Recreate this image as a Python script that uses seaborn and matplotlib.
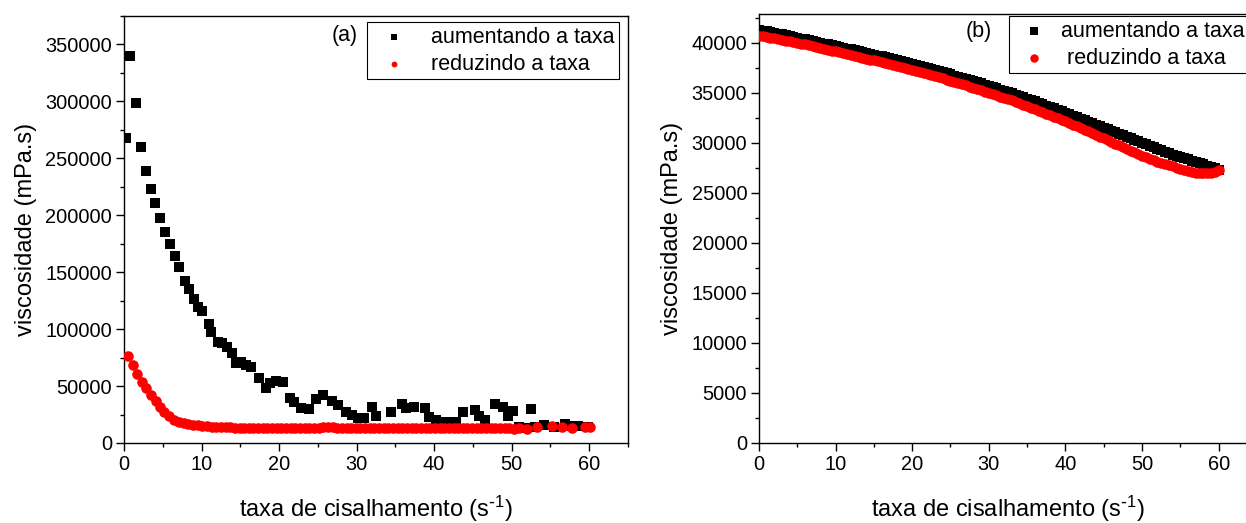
import matplotlib
matplotlib.use("Agg")
import matplotlib.pyplot as plt
from matplotlib.ticker import MultipleLocator
import pandas as pd
import seaborn as sns

# ---- (a) shear-rate sweep: viscosity vs shear rate ----
a_up_rate = [0.26, 0.77, 1.50, 2.19, 2.79, 3.43, 4.02, 4.63, 5.27, 5.91,
             6.56, 7.11, 7.84, 8.35, 9.00, 9.55, 10.06, 10.93, 11.27, 12.12,
             12.60, 13.30, 13.97, 14.40, 15.13, 15.77, 16.32, 17.39, 18.34, 18.77,
             19.67, 20.57, 21.43, 21.98, 22.84, 23.91, 24.77, 25.62, 26.83, 27.54,
             28.62, 29.40, 30.12, 30.98, 32.04, 32.48, 34.41, 35.82, 36.34, 37.40,
             38.82, 39.33, 40.19, 41.48, 42.10, 42.76, 43.70, 45.24, 45.76, 46.62,
             47.90, 48.88, 49.52, 50.13, 50.90, 51.76, 52.44, 53.05, 54.11, 55.40,
             56.90, 57.75, 58.61, 59.90]
a_up_visc = [267500, 339700, 298200, 259700, 238600, 222800, 210500, 198000, 185400, 174600,
             164300, 154700, 142400, 134800, 126100, 119600, 115800, 104100, 97600, 88900,
             87500, 84500, 79200, 70400, 71300, 68400, 66900, 57300, 48000, 52600,
             54400, 53800, 39200, 36200, 31100, 29800, 38600, 42100, 36800, 33300,
             27500, 24500, 21700, 21900, 32000, 24100, 27600, 34200, 31100, 31300,
             30300, 22400, 20200, 18700, 18700, 18700, 26800, 28900, 24100, 20200,
             34200, 31800, 23700, 28100, 14300, 12900, 29600, 14300, 15800, 14300,
             16700, 14900, 14900, 14000]

a_down_rate = [0.55, 1.1, 1.7, 2.3, 2.9, 3.5, 4.1, 4.6, 5.2, 5.8,
               6.5, 7.1, 7.7, 8.3, 8.9, 9.5, 10.1, 10.7, 11.3, 11.9,
               12.5, 13.1, 13.7, 14.3, 14.9, 15.5, 16.1, 16.7, 17.3, 17.9,
               18.5, 19.1, 19.7, 20.3, 20.9, 21.5, 22.1, 22.7, 23.3, 23.9,
               24.5, 25.1, 25.7, 26.3, 26.9, 27.5, 28.1, 28.7, 29.3, 29.9,
               30.5, 31.1, 31.7, 32.3, 32.9, 33.5, 34.1, 34.7, 35.3, 35.9,
               36.5, 37.1, 37.7, 38.3, 38.9, 39.5, 40.1, 40.7, 41.3, 41.9,
               42.5, 43.1, 43.7, 44.3, 44.9, 45.5, 46.1, 46.7, 47.3, 47.9,
               48.5, 49.1, 49.7, 50.3, 50.9, 52.0, 53.3, 55.2, 56.5, 57.8,
               59.4, 60.1]
a_down_visc = [76600, 68400, 60500, 53800, 48000, 42100, 36800, 31800, 26900, 23700,
               20200, 18300, 17200, 16400, 15900, 15500, 15100, 14700, 14400, 14100,
               13900, 13800, 13600, 13500, 13400, 13300, 13300, 13200, 13300, 13200,
               13100, 13100, 13000, 13000, 12900, 13100, 13200, 13000, 13200, 13300,
               13100, 13400, 14000, 14300, 13600, 13200, 13400, 13100, 13000, 13200,
               13000, 12900, 13100, 13000, 13200, 12800, 13100, 13000, 12800, 12900,
               13100, 12800, 13000, 12900, 13100, 12900, 13000, 12800, 13200, 12900,
               13100, 13000, 12800, 13100, 12900, 13000, 13200, 12900, 13100, 13000,
               12800, 13100, 13300, 12700, 12900, 12000, 14300, 14900, 13800, 12900,
               13800, 13800]

# ---- (b) second sample ----
b_rate = [0, 0.5, 1, 1.5, 2, 2.5, 3, 3.5, 4, 4.5, 5, 5.5, 6, 6.5, 7, 7.5, 8, 8.5, 9, 9.5,
          10, 10.5, 11, 11.5, 12, 12.5, 13, 13.5, 14, 14.5, 15, 15.5, 16, 16.5, 17, 17.5,
          18, 18.5, 19, 19.5, 20, 20.5, 21, 21.5, 22, 22.5, 23, 23.5, 24, 24.5, 25, 25.5,
          26, 26.5, 27, 27.5, 28, 28.5, 29, 29.5, 30, 30.5, 31, 31.5, 32, 32.5, 33, 33.5,
          34, 34.5, 35, 35.5, 36, 36.5, 37, 37.5, 38, 38.5, 39, 39.5, 40, 40.5, 41, 41.5,
          42, 42.5, 43, 43.5, 44, 44.5, 45, 45.5, 46, 46.5, 47, 47.5, 48, 48.5, 49, 49.5,
          50, 50.5, 51, 51.5, 52, 52.5, 53, 53.5, 54, 54.5, 55, 55.5, 56, 56.5, 57, 57.5,
          58, 58.5, 59, 59.5, 60]
b_up_visc = [41300, 41220, 41150, 41080, 41000, 40920, 40850, 40750, 40650, 40580,
             40500, 40420, 40350, 40250, 40150, 40080, 40000, 39920, 39850, 39780,
             39700, 39600, 39500, 39420, 39350, 39250, 39150, 39080, 39000, 38900,
             38800, 38720, 38650, 38550, 38450, 38350, 38250, 38150, 38050, 37950,
             37850, 37750, 37650, 37550, 37450, 37350, 37250, 37150, 37050, 36950,
             36850, 36720, 36600, 36500, 36400, 36270, 36150, 36050, 35950, 35820,
             35700, 35580, 35450, 35320, 35200, 35080, 34950, 34820, 34700, 34550,
             34400, 34280, 34150, 34000, 33850, 33720, 33600, 33450, 33300, 33150,
             33000, 32850, 32700, 32550, 32400, 32250, 32100, 31950, 31800, 31650,
             31500, 31350, 31200, 31050, 30900, 30750, 30600, 30450, 30300, 30150,
             30000, 29850, 29700, 29550, 29400, 29250, 29100, 28950, 28800, 28700,
             28600, 28480, 28350, 28220, 28100, 27980, 27850, 27720, 27600, 27450,
             27300]
b_down_visc = [40700, 40650, 40600, 40520, 40450, 40380, 40300, 40220, 40150, 40080,
               40000, 39920, 39850, 39750, 39650, 39580, 39500, 39400, 39300, 39220,
               39150, 39050, 38950, 38880, 38800, 38700, 38600, 38500, 38400, 38320,
               38250, 38150, 38050, 37950, 37850, 37750, 37650, 37550, 37450, 37350,
               37250, 37150, 37050, 36950, 36850, 36750, 36650, 36550, 36450, 36320,
               36200, 36100, 36000, 35870, 35750, 35620, 35500, 35370, 35250, 35120,
               35000, 34870, 34750, 34620, 34500, 34370, 34250, 34100, 33950, 33800,
               33650, 33500, 33350, 33200, 33050, 32900, 32750, 32600, 32450, 32300,
               32150, 31970, 31800, 31650, 31500, 31320, 31150, 30970, 30800, 30620,
               30450, 30270, 30100, 29920, 29750, 29570, 29400, 29220, 29050, 28870,
               28700, 28550, 28400, 28250, 28100, 27970, 27850, 27750, 27650, 27520,
               27400, 27300, 27200, 27100, 27000, 26970, 26950, 26970, 27000, 27100,
               27250]

label_up = "aumentando a taxa"
label_down = "reduzindo a taxa"

sns.set_theme(style="ticks")
plt.rcParams["font.family"] = ["Liberation Sans", "DejaVu Sans"]
plt.rcParams["mathtext.default"] = "regular"
plt.rcParams["text.color"] = "black"
plt.rcParams["axes.labelcolor"] = "black"
plt.rcParams["axes.linewidth"] = 1.0
for k in ("xtick.major.width", "ytick.major.width", "xtick.minor.width", "ytick.minor.width"):
    plt.rcParams[k] = 1.0

fig = plt.figure(figsize=(12.46, 5.23), dpi=100)
ax_a = fig.add_axes([0.0995, 0.153, 0.4045, 0.8164])
ax_b = fig.add_axes([0.6091, 0.153, 0.3997, 0.8203])

df_a_up = pd.DataFrame({"taxa": a_up_rate, "visc": a_up_visc})
df_a_down = pd.DataFrame({"taxa": a_down_rate, "visc": a_down_visc})
df_b_up = pd.DataFrame({"taxa": b_rate, "visc": b_up_visc})
df_b_down = pd.DataFrame({"taxa": b_rate, "visc": b_down_visc})

sns.scatterplot(data=df_a_up, x="taxa", y="visc", ax=ax_a, marker="s", s=52,
                color="black", linewidth=0, label=label_up, zorder=3)
sns.scatterplot(data=df_a_down, x="taxa", y="visc", ax=ax_a, marker="o", s=58,
                color="#ff0000", linewidth=0, label=label_down, zorder=4)

sns.scatterplot(data=df_b_up, x="taxa", y="visc", ax=ax_b, marker="s", s=52,
                color="black", linewidth=0, label=label_up, zorder=3)
sns.scatterplot(data=df_b_down, x="taxa", y="visc", ax=ax_b, marker="o", s=58,
                color="#ff0000", linewidth=0, label=" " + label_down, zorder=4)

tick_fs = 14.4
label_fs = 17
legend_fs = 15.5

for ax in (ax_a, ax_b):
    ax.set_xlim(0, 65)
    ax.xaxis.set_major_locator(MultipleLocator(10))
    ax.xaxis.set_minor_locator(MultipleLocator(5))
    ax.tick_params(axis="both", which="major", direction="out", length=5.5, pad=3,
                   labelsize=tick_fs, color="black", labelcolor="black",
                   top=False, right=False)
    ax.tick_params(axis="both", which="minor", direction="out", length=3,
                   color="black", top=False, right=False)
    for side in ("left", "right", "top", "bottom"):
        ax.spines[side].set_visible(True)
        ax.spines[side].set_color("black")
    ax.set_xlabel(r"taxa de cisalhamento (s$^{\text{-}1}$)", fontsize=label_fs, labelpad=14.5)
    ax.set_ylabel("viscosidade (mPa.s)", fontsize=label_fs, labelpad=6)

ax_a.set_ylim(0, 375000)
ax_a.yaxis.set_major_locator(MultipleLocator(50000))
ax_a.yaxis.set_minor_locator(MultipleLocator(25000))

ax_b.set_ylim(0, 42900)
ax_b.yaxis.set_major_locator(MultipleLocator(5000))
ax_b.yaxis.set_minor_locator(MultipleLocator(2500))

leg_a = ax_a.legend(loc="upper right", bbox_to_anchor=(0.983, 0.986),
                    borderaxespad=0, fontsize=legend_fs, frameon=True, fancybox=False,
                    edgecolor="black", framealpha=1, markerscale=0.55,
                    handlelength=2.0, handletextpad=0.75, labelspacing=0.27,
                    borderpad=0.22, scatterpoints=1)
leg_a.get_frame().set_linewidth(0.8)

leg_b = ax_b.legend(loc="upper left", bbox_to_anchor=(0.502, 0.995),
                    borderaxespad=0, fontsize=legend_fs, frameon=True, fancybox=False,
                    edgecolor="black", framealpha=1, markerscale=0.8,
                    handlelength=1.9, handletextpad=0.3, labelspacing=0.27,
                    borderpad=0.22, scatterpoints=1)
leg_b.get_frame().set_linewidth(0.8)

ax_a.text(0.4385, 0.955, "(a)", transform=ax_a.transAxes, fontsize=legend_fs,
          ha="center", va="center", color="black")
ax_b.text(0.4408, 0.958, "(b)", transform=ax_b.transAxes, fontsize=legend_fs,
          ha="center", va="center", color="black")

fig.savefig("out.png", dpi=100)
